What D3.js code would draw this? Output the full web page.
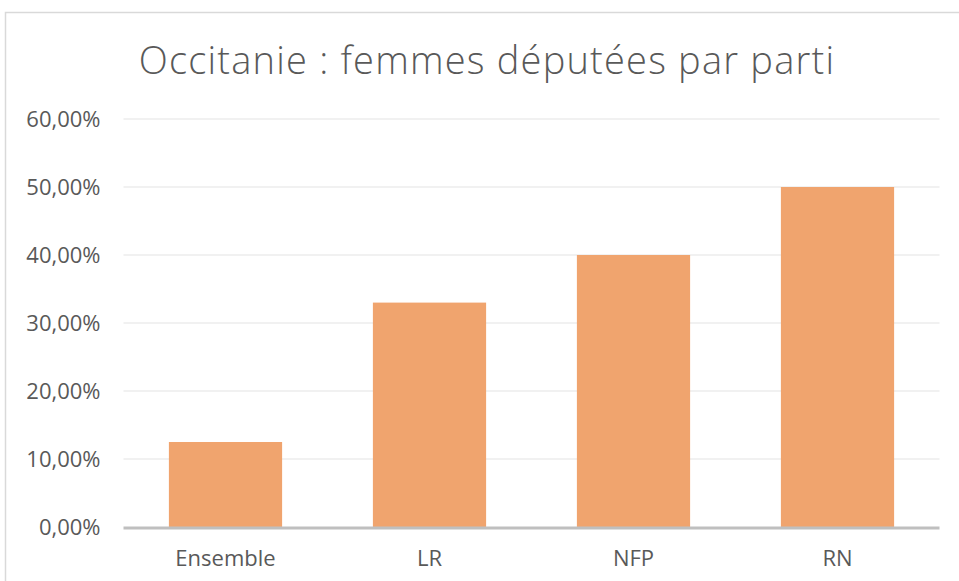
<!DOCTYPE html>
<html lang="fr">
<head>
<meta charset="UTF-8">
<title>Occitanie : femmes députées par parti</title>
<script src="https://cdn.jsdelivr.net/npm/d3@7"></script>
<style>
  body { margin: 0; background: #fff; }
  svg { display: block; }
</style>
</head>
<body>
<svg width="959" height="581" font-family="'Open Sans', sans-serif"></svg>
<script>
var categories = ["Ensemble", "LR", "NFP", "RN"];
var values = [12.5, 33, 40, 50];
var yTicks = [0, 10, 20, 30, 40, 50, 60];

var svg = d3.select("svg"), width = +svg.attr("width"), height = +svg.attr("height");
var margin = {top: 119, left: 123.5, right: 19.5, bottom: 54};
var font = "'Open Sans', sans-serif";

// cadre du graphique
svg.append("rect")
    .attr("x", 5.5).attr("y", 12.5)
    .attr("width", 1000).attr("height", 1000)
    .attr("fill", "none").attr("stroke", "#d9d9d9").attr("stroke-width", 1.5);

svg.append("text")
    .attr("x", 487).attr("y", 74)
    .attr("text-anchor", "middle")
    .attr("font-size", 38).attr("font-weight", 300)
    .attr("letter-spacing", 1.2)
    .attr("fill", "#595959")
    .text("Occitanie : femmes députées par parti");

var x = d3.scaleBand()
    .domain(categories)
    .range([margin.left, width - margin.right])
    .paddingInner(0.445).paddingOuter(0.2225);

var y = d3.scaleLinear()
    .domain([0, 60])
    .range([height - margin.bottom, margin.top]);

// grille
svg.append("g")
    .selectAll("line")
    .data(yTicks.slice(1))
    .enter().append("line")
    .attr("x1", margin.left).attr("x2", width - margin.right)
    .attr("y1", d => y(d)).attr("y2", d => y(d))
    .attr("stroke", "#ececec").attr("stroke-width", 1.5);

var yAxis = d3.axisLeft(y)
    .tickValues(yTicks)
    .tickSize(0).tickPadding(23)
    .tickFormat(d => d3.format(".2f")(d).replace(".", ",") + "%");

svg.append("g")
    .attr("transform", "translate(" + margin.left + ",0)")
    .call(yAxis)
    .call(g => g.select(".domain").remove())
    .selectAll("text")
    .attr("font-size", 22).attr("fill", "#595959")
    .attr("font-family", font);

svg.append("g")
    .selectAll("rect")
    .data(values)
    .enter().append("rect")
    .attr("x", (d, i) => x(categories[i]))
    .attr("width", x.bandwidth())
    .attr("y", d => y(d))
    .attr("height", d => y(0) - y(d))
    .attr("fill", "#f0a46e");

// axe des abscisses
svg.append("line")
    .attr("x1", margin.left).attr("x2", width - margin.right)
    .attr("y1", y(0) + 1).attr("y2", y(0) + 1)
    .attr("stroke", "#bfbfbf").attr("stroke-width", 3);

var xAxis = d3.axisBottom(x).tickSize(0).tickPadding(23);
svg.append("g")
    .attr("transform", "translate(0," + y(0) + ")")
    .call(xAxis)
    .call(g => g.select(".domain").remove())
    .selectAll("text")
    .attr("font-size", 22).attr("fill", "#595959")
    .attr("font-family", font);
</script>
</body>
</html>
